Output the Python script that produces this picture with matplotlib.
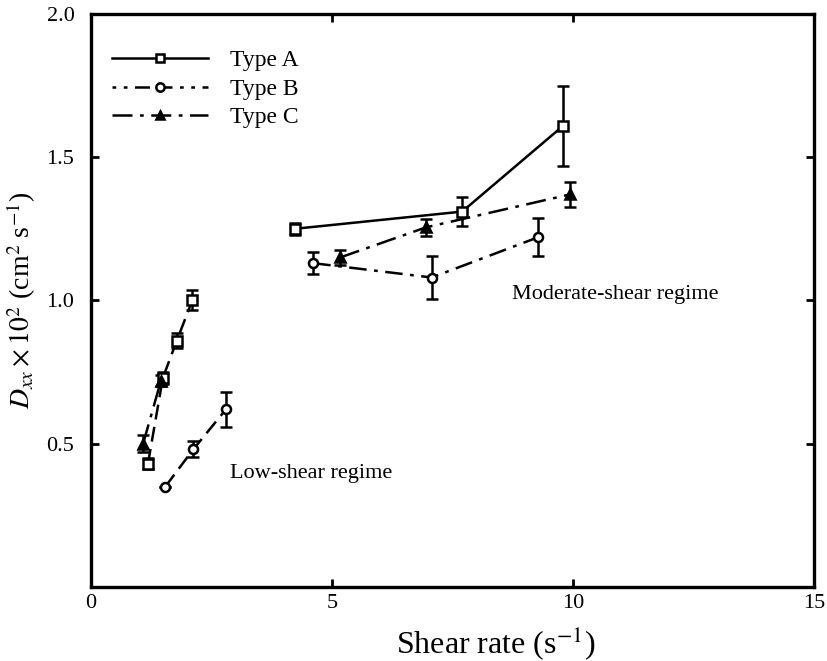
import matplotlib
matplotlib.use('Agg')
import matplotlib.pyplot as plt
from matplotlib.lines import Line2D
import numpy as np

plt.rcParams['font.family'] = 'Liberation Serif'
plt.rcParams['mathtext.fontset'] = 'stix'

# Type A (squares)
a_low_x = [1.18, 1.49, 1.78, 2.10]
a_low_y = [0.43, 0.73, 0.86, 1.00]
a_low_err = [0.02, 0.02, 0.025, 0.035]
a_mod_x = [4.23, 7.70, 9.80]
a_mod_y = [1.25, 1.31, 1.61]
a_mod_err = [0.02, 0.052, 0.14]

# Type B (circles)
b_low_x = [1.54, 2.12, 2.80]
b_low_y = [0.35, 0.48, 0.62]
b_low_err = [0.0, 0.028, 0.061]
b_mod_x = [4.61, 7.07, 9.27]
b_mod_y = [1.13, 1.08, 1.22]
b_mod_err = [0.038, 0.075, 0.066]

# Type C (triangles)
c_low_x = [1.08, 1.45]
c_low_y = [0.50, 0.72]
c_low_err = [0.03, 0.02]
c_mod_x = [5.17, 6.95, 9.94]
c_mod_y = [1.15, 1.255, 1.37]
c_mod_err = [0.025, 0.03, 0.045]

labels = ['Type A', 'Type B', 'Type C']

fig = plt.figure(figsize=(8.28, 6.61), dpi=100)
ax = fig.add_axes([0.110, 0.112, 0.873, 0.867])

dash_b = (0, (7, 3, 1.5, 3))
dash_c = (0, (8, 3, 1.5, 3))

def series(x, y, err, ls, marker, mfc):
    ax.errorbar(x, y, yerr=err, color='black', linestyle=ls, linewidth=1.8,
                marker=marker, markersize=6.5, markerfacecolor=mfc,
                markeredgewidth=1.8, capsize=4, elinewidth=1.8, capthick=1.8)

series(a_low_x, a_low_y, a_low_err, (0, (6, 3)), 's', 'white')
series(a_mod_x, a_mod_y, a_mod_err, '-', 's', 'white')
series(b_low_x, b_low_y, b_low_err, (0, (6, 3)), 'o', 'white')
series(b_mod_x, b_mod_y, b_mod_err, dash_b, 'o', 'white')
series(c_low_x, c_low_y, c_low_err, dash_c, '^', 'black')
series(c_mod_x, c_mod_y, c_mod_err, dash_c, '^', 'black')

handles = [
    Line2D([], [], color='black', linestyle='-', linewidth=1.8, marker='s',
           markersize=6, markerfacecolor='white', markeredgewidth=1.8),
    Line2D([], [], color='black', linestyle=(0, (1.5, 3, 1.5, 3, 6, 3, 6, 3)),
           linewidth=1.8, marker='o', markersize=6, markerfacecolor='white',
           markeredgewidth=1.8),
    Line2D([], [], color='black', linestyle=dash_c, linewidth=1.8, marker='^',
           markersize=6, markerfacecolor='black', markeredgewidth=1.8),
]
ax.legend(handles, labels, loc='upper left', frameon=False, fontsize=17,
          handlelength=4.1, handletextpad=0.9, labelspacing=0.3,
          bbox_to_anchor=(-0.014, 0.991), borderaxespad=0.9)

ax.text(2.88, 0.395, 'Low-shear regime', fontsize=16, va='center', ha='left')
ax.text(8.73, 1.02, 'Moderate-shear regime', fontsize=16, va='center', ha='left')

ax.set_xlim(0, 15)
ax.set_ylim(0, 2.0)
ax.set_xticks([0, 5, 10, 15])
ax.set_xticklabels(['0', '5', '10', '15'])
ax.set_yticks([0.5, 1.0, 1.5, 2.0])
ax.set_yticklabels(['0.5', '1.0', '1.5', '2.0'])
ax.tick_params(direction='in', length=6, width=2, labelsize=16,
               top=True, right=True)
ax.tick_params(axis='x', pad=5)
ax.tick_params(axis='y', pad=12)

for s in ax.spines.values():
    s.set_linewidth(2.4)

ax.set_xlabel(r'Shear rate (s$^{-1}$)', fontsize=23)
ax.xaxis.set_label_coords(0.56, -0.064)
ax.set_ylabel(r'$D_{xx}\times 10^2$ (cm$^2$ s$^{-1}$)', fontsize=20, labelpad=6)

fig.savefig('out.png', dpi=100)
